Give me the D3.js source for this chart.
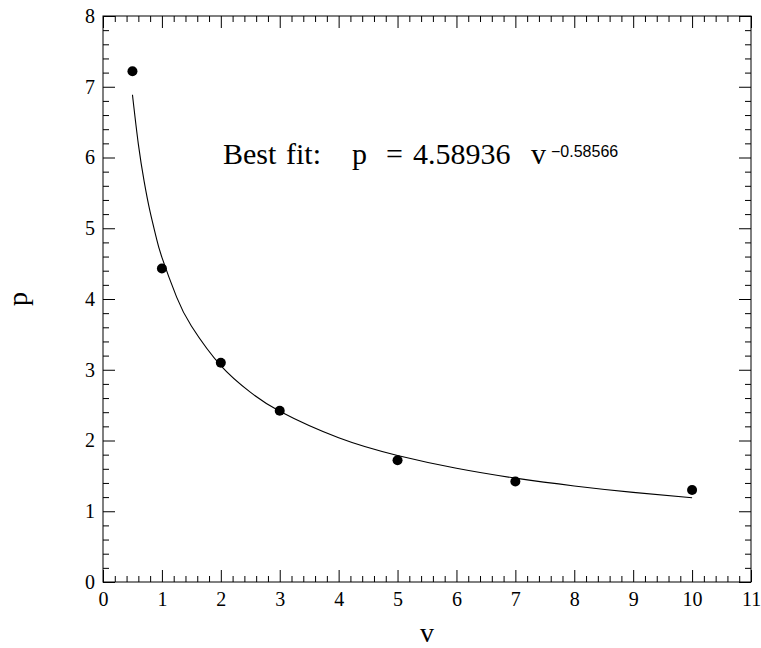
<!DOCTYPE html>
<html>
<head>
<meta charset="utf-8">
<script src="https://cdn.jsdelivr.net/npm/d3@7"></script>
<style>
  body { margin: 0; background: #fff; }
  text { fill: #000; }
</style>
</head>
<body>
<script>
// Chart size
const width = 761;
const height = 648;
const margin = { top: 16, right: 10, bottom: 66, left: 103 };

// Observed points
const vObs = [0.5, 1, 2, 3, 5, 7, 10];
const pObs = [7.22, 4.43, 3.10, 2.42, 1.72, 1.42, 1.30];

// Fitted curve
const vFit = [0.5, 0.6, 0.7, 0.8, 0.9, 1, 1.25, 1.5, 2, 2.5, 3, 4, 5, 6, 7, 8, 9, 10];
const pFit = [6.887, 6.190, 5.655, 5.230, 4.882, 4.589, 4.027, 3.619, 3.058, 2.683, 2.412, 2.038, 1.788, 1.607, 1.468, 1.358, 1.267, 1.191];

// Axis ticks
const xTicks = d3.range(0, 12);
const yTicks = d3.range(0, 9);
const xMinor = d3.range(0, 55).map(i => i * 0.2).filter((d, i) => i % 5 !== 0);
const yMinor = d3.range(0, 40).map(i => i * 0.2).filter((d, i) => i % 5 !== 0);

const svg = d3.select('body')
  .append('svg')
  .attr('width', width)
  .attr('height', height);

const x = d3.scaleLinear()
  .domain([0, 11])
  .range([margin.left, width - margin.right]);

const y = d3.scaleLinear()
  .domain([0, 8])
  .range([height - margin.bottom, margin.top]);

const x0 = x.range()[0], x1 = x.range()[1];
const y0 = y.range()[0], y1 = y.range()[1];

const majorLen = 12, minorLen = 6;
const tickFont = '20px "Liberation Serif", serif';

function style(g) {
  g.select('.domain').remove();
  g.selectAll('line').attr('stroke', '#000').attr('stroke-width', 1);
  g.selectAll('text').style('font', tickFont);
}

// bottom
svg.append('g')
  .attr('transform', `translate(0,${y0})`)
  .call(d3.axisBottom(x).tickValues(xTicks).tickSizeInner(-majorLen).tickSizeOuter(0).tickPadding(10))
  .call(style);
svg.append('g')
  .attr('transform', `translate(0,${y0})`)
  .call(d3.axisBottom(x).tickValues(xMinor).tickSizeInner(-minorLen).tickSizeOuter(0).tickFormat(''))
  .call(style);
// top
svg.append('g')
  .attr('transform', `translate(0,${y1})`)
  .call(d3.axisTop(x).tickValues(xTicks).tickSizeInner(-majorLen).tickSizeOuter(0).tickFormat(''))
  .call(style);
svg.append('g')
  .attr('transform', `translate(0,${y1})`)
  .call(d3.axisTop(x).tickValues(xMinor).tickSizeInner(-minorLen).tickSizeOuter(0).tickFormat(''))
  .call(style);
// left
svg.append('g')
  .attr('transform', `translate(${x0},0)`)
  .call(d3.axisLeft(y).tickValues(yTicks).tickSizeInner(-majorLen).tickSizeOuter(0).tickPadding(8))
  .call(style);
svg.append('g')
  .attr('transform', `translate(${x0},0)`)
  .call(d3.axisLeft(y).tickValues(yMinor).tickSizeInner(-minorLen).tickSizeOuter(0).tickFormat(''))
  .call(style);
// right
svg.append('g')
  .attr('transform', `translate(${x1},0)`)
  .call(d3.axisRight(y).tickValues(yTicks).tickSizeInner(-majorLen).tickSizeOuter(0).tickFormat(''))
  .call(style);
svg.append('g')
  .attr('transform', `translate(${x1},0)`)
  .call(d3.axisRight(y).tickValues(yMinor).tickSizeInner(-minorLen).tickSizeOuter(0).tickFormat(''))
  .call(style);

// frame
svg.append('rect')
  .attr('x', x0).attr('y', y1)
  .attr('width', x1 - x0).attr('height', y0 - y1)
  .attr('fill', 'none').attr('stroke', '#000').attr('stroke-width', 1);

// fit curve
const fit = vFit.map((v, i) => [v, pFit[i]]);
svg.append('path')
  .datum(fit)
  .attr('fill', 'none')
  .attr('stroke', '#000')
  .attr('stroke-width', 1.1)
  .attr('d', d3.line().x(d => x(d[0])).y(d => y(d[1])).curve(d3.curveNatural));

// points
svg.append('g')
  .selectAll('circle')
  .data(vObs.map((v, i) => [v, pObs[i]]))
  .join('circle')
  .attr('cx', d => x(d[0]))
  .attr('cy', d => y(d[1]))
  .attr('r', 5)
  .attr('fill', '#000');

// annotation
const note = svg.append('text')
  .attr('x', 223).attr('y', 164)
  .style('font', '30px "Liberation Serif", serif');
note.append('tspan').text('Best');
note.append('tspan').attr('x', 286).text('fit:');
note.append('tspan').attr('x', 352).text('p');
note.append('tspan').attr('x', 386).text('=');
note.append('tspan').attr('x', 413).text('4.58936');
note.append('tspan').attr('x', 531).text('v');
svg.append('text')
  .attr('x', 551).attr('y', 157)
  .style('font', '16px "Liberation Sans", sans-serif')
  .text('\u22120.58566');

// axis titles
svg.append('text')
  .attr('x', (x0 + x1) / 2).attr('y', 642)
  .attr('text-anchor', 'middle')
  .style('font', '28px "Liberation Serif", serif')
  .text('v');
svg.append('text')
  .attr('transform', `translate(27,${(y0 + y1) / 2}) rotate(-90)`)
  .attr('text-anchor', 'middle')
  .style('font', '28px "Liberation Serif", serif')
  .text('p');
</script>
</body>
</html>
